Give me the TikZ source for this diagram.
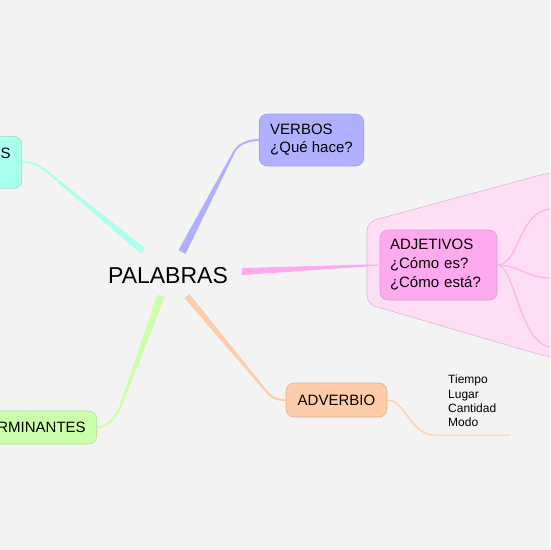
\documentclass[tikz,border=0pt]{standalone}
\usepackage{fontspec}
\setmainfont{Liberation Sans}
\usetikzlibrary{calc, positioning}
\definecolor{paper}{HTML}{F3F3F3}
\definecolor{cyfill}{HTML}{AAFFEE}
\definecolor{vbfill}{HTML}{B0B0FF}
\definecolor{ajfill}{HTML}{FFAAEE}
\definecolor{ajzone}{HTML}{FDDEF5}
\definecolor{ajline}{HTML}{FFB3EA}
\definecolor{avfill}{HTML}{FFCCAA}
\definecolor{dtfill}{HTML}{CCFFAA}

\tikzset{
  topic/.style={draw=#1!70!gray, fill=#1, rounded corners=8pt, line width=0.6pt,
    inner xsep=11pt, inner ysep=5pt, align=left, font=\fontsize{15}{18}\selectfont},
  twig/.style={draw=#1, line width=2pt},
  leaf/.style={draw=#1, line width=1.2pt}
}

\begin{document}
\begin{tikzpicture}[x=1pt, y=-1pt]
  \fill[paper] (0,0) rectangle (550,550);
  \useasboundingbox (0,0) rectangle (550,550);
  \clip (0,0) rectangle (550,550);

  % centre
  \node[font=\fontsize{23}{27}\selectfont, anchor=base] (pal) at (168,283) {PALABRAS};

  % topics
  \node[topic=cyfill, text height=22pt, text depth=30pt, inner ysep=0pt, anchor=north east] (sust) at (22,136) {SUSTANTIVOS};
  \node[topic=vbfill, minimum height=52pt] (verb) at (311.5,140) {VERBOS\\¿Qué hace?};
  \node[topic=avfill, minimum height=34pt, minimum width=101pt] (adv) at (336.5,400) {ADVERBIO};
  \node[topic=dtfill, minimum height=33pt, anchor=east] (det) at (97,427.5) {DETERMINANTES};

  % branch ends
  \coordinate (sust-b) at (45,170);   \coordinate (sust-r) at (143,251);
  \coordinate (verb-b) at (234,152);  \coordinate (verb-r) at (182,252);
  \coordinate (adj-b) at (367,265.5); \coordinate (adj-r) at (242,271.5);
  \coordinate (adv-b) at (266,391);   \coordinate (adv-r) at (187,296);
  \coordinate (det-b) at (121,405);   \coordinate (det-r) at (161,296);

  % tapered branches
  \fill[cyfill] ($(sust-r)!3.3pt!90:(sust-b)$) -- ($(sust-b)!1pt!-90:(sust-r)$) -- ($(sust-b)!1pt!90:(sust-r)$) -- ($(sust-r)!3.3pt!-90:(sust-b)$) -- cycle;
  \draw[twig=cyfill] (sust.east) .. controls +(12,0) and ($(sust-b)!-8pt!(sust-r)$) .. (sust-b);
  \fill[vbfill] ($(verb-r)!4pt!90:(verb-b)$) -- ($(verb-b)!1pt!-90:(verb-r)$) -- ($(verb-b)!1pt!90:(verb-r)$) -- ($(verb-r)!4pt!-90:(verb-b)$) -- cycle;
  \draw[twig=vbfill] (verb.west) .. controls +(-12,0) and ($(verb-b)!-8pt!(verb-r)$) .. (verb-b);
  \fill[ajfill] ($(adj-r)!3.5pt!90:(adj-b)$) -- ($(adj-b)!1pt!-90:(adj-r)$) -- ($(adj-b)!1pt!90:(adj-r)$) -- ($(adj-r)!3.5pt!-90:(adj-b)$) -- cycle;
  \fill[avfill] ($(adv-r)!3.3pt!90:(adv-b)$) -- ($(adv-b)!1pt!-90:(adv-r)$) -- ($(adv-b)!1pt!90:(adv-r)$) -- ($(adv-r)!3.3pt!-90:(adv-b)$) -- cycle;
  \draw[twig=avfill] (adv.west) .. controls +(-10,0) and ($(adv-b)!-8pt!(adv-r)$) .. (adv-b);
  \fill[dtfill] ($(det-r)!4pt!90:(det-b)$) -- ($(det-b)!1pt!-90:(det-r)$) -- ($(det-b)!1pt!90:(det-r)$) -- ($(det-r)!4pt!-90:(det-b)$) -- cycle;
  \draw[twig=dtfill] (det.east) .. controls +(12,0) and ($(det-b)!-10pt!(det-r)$) .. (det-b);

  % adjetivos group
  \draw[draw=ajfill!60!gray!70, fill=ajzone, line width=0.6pt, rounded corners=9pt]
    (367,222) -- (548,173) -- (565,173) -- (565,357) -- (548,357) -- (367,304) -- cycle;
  \draw[leaf=ajfill] (adj-b) -- (378,265);
  \node[topic=ajfill, font=\fontsize{15}{19}\selectfont, minimum height=70pt, text width=97pt, inner xsep=10pt] (adj) at (438.5,265) {ADJETIVOS\\¿Cómo es?\\¿Cómo está?};
  \coordinate (adj-o1) at (552,209);
  \coordinate (adj-o2) at (552,278);
  \coordinate (adj-o3) at (552,347);
  \draw[leaf=ajline] (adj.east) .. controls (520,265) and (518,210) .. (adj-o1);
  \draw[leaf=ajline] (adj.east) .. controls (520,265) and (525,278) .. (adj-o2);
  \draw[leaf=ajline] (adj.east) .. controls (515,265) and (520,347) .. (adj-o3);

  % adverbio detail
  \node[font=\fontsize{12}{14.3}\selectfont, align=left, text width=48pt, inner xsep=14pt, inner ysep=8pt, anchor=north west] (tm) at (434,367) {Tiempo\\Lugar\\Cantidad\\Modo};
  \draw[leaf=avfill] (adv.east) .. controls (405,400) and (410,434) .. (tm.south west) -- (tm.south east);
\end{tikzpicture}
\end{document}
